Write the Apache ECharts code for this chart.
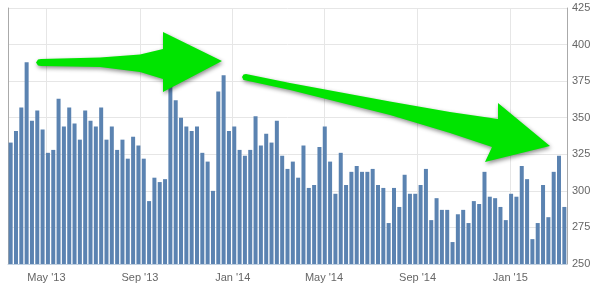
<!DOCTYPE html>
<html>
<head>
<meta charset="utf-8">
<script src="https://cdn.jsdelivr.net/npm/echarts@6/dist/echarts.min.js"></script>
<style>
  html, body { margin: 0; padding: 0; background: #fff; }
  #chart { width: 604px; height: 289px; }
</style>
</head>
<body>
<div id="chart"></div>
<script>
// weekly values, first week ending Fri 15 Mar 2013
const firstWeek = [2013, 2, 15];
const values = [
  333, 341, 357, 388, 348, 355, 342, 326, 328, 363,
  344, 357, 346, 335, 355, 348, 344, 357, 335, 344,
  328, 335, 322, 337, 331, 322, 293, 309, 306, 308,
  372, 362, 350, 344, 341, 344, 326, 320, 300, 368,
  379, 341, 344, 328, 324, 328, 351, 331, 339, 333,
  348, 324, 315, 320, 309, 331, 302, 304, 330, 344,
  320, 298, 326, 304, 313, 317, 313, 313, 315, 304,
  302, 278, 302, 289, 311, 298, 298, 304, 315, 280,
  295, 287, 287, 265, 284, 287, 278, 293, 291, 313,
  296, 295, 289, 280, 298, 296, 317, 308, 267, 278,
  304, 282, 313, 324, 289
];
// x tick labels (month starts)
const tickMonths = [[2013, 4], [2013, 8], [2014, 0], [2014, 4], [2014, 8], [2015, 0]];
const monthNames = ["Jan", "Feb", "Mar", "Apr", "May", "Jun", "Jul", "Aug", "Sep", "Oct", "Nov", "Dec"];
const yTicks = { min: 250, max: 425, interval: 25 };

const DAY = 24 * 3600 * 1000;
const start = new Date(firstWeek[0], firstWeek[1], firstWeek[2]).getTime();
const weeks = values.map((v, i) => [start + i * 7 * DAY, v]);
const tickValues = tickMonths.map((m) => new Date(m[0], m[1], 1).getTime());

const chart = echarts.init(document.getElementById("chart"));

const arrowStyle = {
  fill: "#00e400",
  shadowBlur: 4,
  shadowColor: "rgba(0,0,0,0.45)",
  shadowOffsetX: 1,
  shadowOffsetY: 2,
};

const option = {
  animation: false,
  grid: { left: 8, right: 37, top: 8, bottom: 25 },
  xAxis: {
    type: "value",
    scale: true,
    min: weeks[0][0] - 3.5 * DAY,
    max: weeks[weeks.length - 1][0] + 3.5 * DAY,
    axisLine: { onZero: false, lineStyle: { color: "#c0d0e0", width: 1 } },
    axisTick: { show: false, customValues: tickValues },
    axisLabel: {
      customValues: tickValues,
      color: "#666",
      fontSize: 11,
      fontFamily: "Liberation Sans, Arial, sans-serif",
      margin: 8,
      formatter: function (val) {
        const d = new Date(val);
        return monthNames[d.getMonth()] + " '" + String(d.getFullYear()).slice(2);
      },
    },
    splitLine: { show: true, lineStyle: { color: "#e6e6e6" } },
  },
  yAxis: [
    {
      type: "value",
      position: "right",
      min: yTicks.min,
      max: yTicks.max,
      interval: yTicks.interval,
      axisLine: { show: true, onZero: false, lineStyle: { color: "#aaa" } },
      axisTick: { show: false },
      axisLabel: {
        color: "#666",
        fontSize: 11,
        fontFamily: "Liberation Sans, Arial, sans-serif",
        margin: 5,
      },
      splitLine: { lineStyle: { color: "#e6e6e6" } },
    },
    {
      type: "value",
      position: "left",
      min: yTicks.min,
      max: yTicks.max,
      interval: yTicks.interval,
      axisLine: { show: true, onZero: false, lineStyle: { color: "#aaa" } },
      axisTick: { show: false },
      axisLabel: { show: false },
      splitLine: { show: false },
    },
  ],
  series: [
    {
      type: "bar",
      data: weeks,
      barWidth: 4,
      itemStyle: { color: "#5b83b1" },
    },
  ],
  // the two green annotation arrows
  graphic: [
    {
      type: "polygon",
      z: 100,
      shape: {
        points: [
          [36, 62.5], [38, 59.5], [41, 59], [100, 57.5], [140, 54.5], [163, 49],
          [163, 32], [222, 61], [163, 92], [163, 79], [140, 72], [100, 67],
          [41, 66], [38, 65.5],
        ],
      },
      style: arrowStyle,
    },
    {
      type: "polygon",
      z: 100,
      shape: {
        points: [
          [242, 77], [243.5, 74.5], [246, 74], [290, 83], [390, 101.5], [450, 112],
          [498, 119], [498, 103], [550, 146], [485, 162], [492, 147], [450, 133],
          [390, 115], [290, 90], [246, 80.5], [243.5, 80],
        ],
      },
      style: arrowStyle,
    },
  ],
};

chart.setOption(option);
</script>
</body>
</html>
